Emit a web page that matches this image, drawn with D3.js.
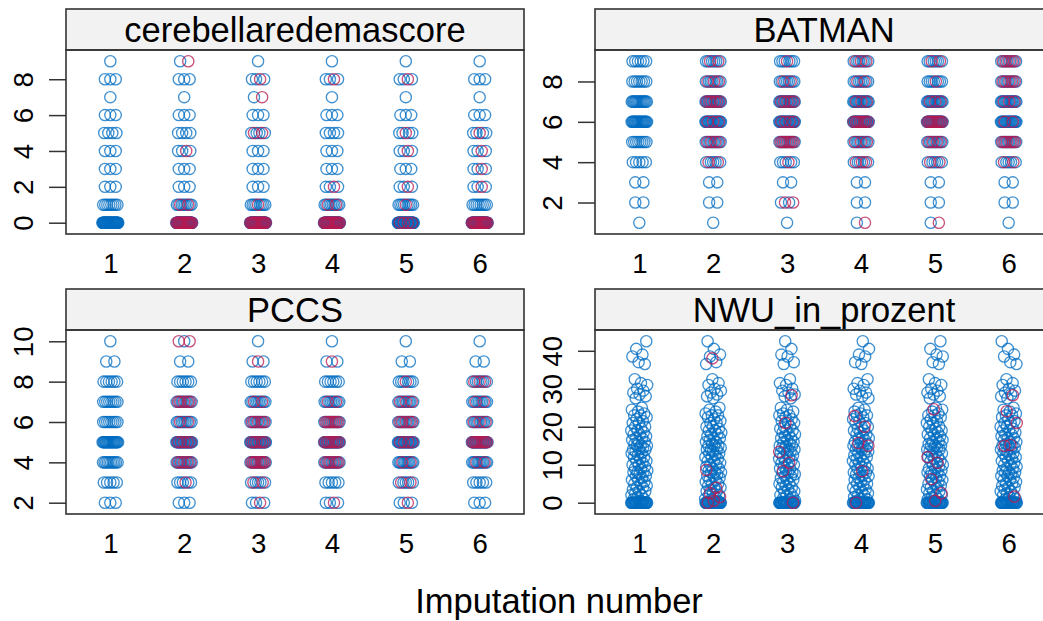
<!DOCTYPE html>
<html lang="en">
<head>
<meta charset="UTF-8">
<title>Imputation strip plot</title>
<script src="https://cdn.jsdelivr.net/npm/d3@7"></script>
<style>
  body { margin: 0; background: #fff; }
  svg { display: block; font-family: "Liberation Sans", Arial, sans-serif; }
</style>
</head>
<body>
<svg id="chart" width="1043" height="621"></svg>
<script>
// x axis: column 1 = observed data only, columns 2-6 = imputations
const impNumbers = [1, 2, 3, 4, 5, 6];
const xTickLabels = ['1', '2', '3', '4', '5', '6'];

// cerebellaredemascore: counts per level (observed, then imputed per imputation 2..6)
const cerebLevels = [0, 1, 2, 3, 4, 5, 6, 7, 8, 9];
const cerebObs = [40, 8, 3, 3, 3, 4, 3, 1, 3, 1];
const cerebImp = [
  [18, 2, 0, 0, 1, 0, 0, 0, 0, 1],
  [18, 1, 0, 0, 0, 2, 0, 1, 1, 0],
  [18, 2, 1, 0, 0, 0, 0, 0, 1, 0],
  [4, 1, 1, 0, 1, 1, 0, 0, 1, 0],
  [18, 0, 1, 1, 1, 1, 0, 0, 0, 0]
];

// BATMAN
const batmanLevels = [1, 2, 3, 4, 5, 6, 7, 8, 9];
const batmanObs = [1, 2, 2, 5, 8, 20, 15, 7, 6];
const batmanImp = [
  [0, 0, 0, 2, 4, 3, 6, 3, 2],
  [0, 2, 0, 1, 7, 4, 5, 2, 1],
  [1, 0, 0, 3, 3, 8, 3, 2, 3],
  [1, 0, 0, 2, 4, 10, 3, 1, 2],
  [0, 0, 0, 2, 6, 2, 3, 5, 5]
];

// PCCS
const pccsLevels = [2, 3, 4, 5, 6, 7, 8, 9, 10];
const pccsObs = [3, 5, 10, 20, 8, 8, 6, 2, 1];
const pccsImp = [
  [0, 1, 5, 5, 2, 5, 0, 0, 2],
  [1, 2, 8, 6, 5, 2, 0, 1, 0],
  [1, 0, 6, 8, 7, 2, 0, 1, 0],
  [1, 2, 2, 4, 5, 3, 1, 0, 0],
  [0, 0, 2, 10, 3, 2, 3, 0, 0]
];

// NWU_in_prozent: observed values and imputed values per imputation 2..6
const nwuObs = [
  0, 0, 0, 0, 0, 0, 0, 0, 0, 0, 0, 0, 0, 0, 0, 0, 0, 0, 0, 0,
  0, 0, 0, 0, 0, 0, 0, 0, 0, 0,
  0.5, 1, 1, 1.5, 2, 2, 2.5, 3, 3, 3.5, 4, 4, 4.5, 5, 5, 5.5, 6, 6, 6.5, 7,
  7, 7.5, 8, 8, 8, 8.5, 9, 9, 9.5, 10, 10, 10.5, 11, 11, 11.5, 12, 12, 12.5, 13, 13,
  13.5, 14, 14, 14, 14.5, 15, 15, 15, 15.5, 16, 16, 16.5, 17, 17, 17.5, 18, 18, 18.5, 19, 19,
  19.5, 20, 20, 21, 21, 21.5, 22, 22.5, 23, 23, 23.5, 24, 24.5, 25,
  27.5, 28, 28.5, 29, 29.5, 30, 31, 31.5, 32.5,
  36.5, 37, 38.5, 39, 40.5, 42.5
];
const nwuImp = [
  [38, 8.6, 3.9, 2.5, 1.5, 0.5, 0],
  [28.3, 21, 13.4, 10.5, 8.3, 0],
  [22.8, 20, 15.7, 15, 8.3, 0],
  [24.6, 12, 10.5, 6.2, 2.5, 0.5],
  [28.3, 24.1, 21, 15.2, 15, 1.6]
];

const panels = [
  { title: 'cerebellaredemascore', levels: cerebLevels, obs: cerebObs, imp: cerebImp, col: 0, row: 0 },
  { title: 'BATMAN', levels: batmanLevels, obs: batmanObs, imp: batmanImp, col: 1, row: 0 },
  { title: 'PCCS', levels: pccsLevels, obs: pccsObs, imp: pccsImp, col: 0, row: 1 },
  { title: 'NWU_in_prozent', values: nwuObs, impValues: nwuImp, col: 1, row: 1 }
];

const colX = [66, 595], rowY = [9, 289];
const panelW = 458, stripH = 41, plotH = 184;
const jitterW = 0.11;
const obsColor = 'rgba(0,108,194,0.75)', impColor = 'rgba(182,26,81,0.75)';
const frameColor = '#333';

const svg = d3.select('#chart');

function buildPoints(p) {
  const pts = [];
  impNumbers.forEach((imp, c) => {
    if (p.levels) {
      p.levels.forEach((v, k) => {
        const nObs = p.obs[k];
        const nImp = c === 0 ? 0 : p.imp[c - 1][k];
        const n = nObs + nImp;
        const impSlots = new Set();
        for (let j = 0; j < nImp; j++) impSlots.add(Math.floor((j + 0.5) * n / nImp));
        for (let i = 0; i < n; i++) {
          const off = n === 1 ? 0 : jitterW * (2 * (i + 0.5) / n - 1);
          pts.push({ imp, v, off, kind: impSlots.has(i) ? 'imp' : 'obs' });
        }
      });
    } else {
      // spread continuous values across the jitter band with a golden-ratio sequence
      p.values.forEach((v, i) => {
        const f = ((i + c * 0.37) * 0.618034) % 1;
        pts.push({ imp, v, off: jitterW * (2 * f - 1), kind: 'obs' });
      });
      if (c > 0) p.impValues[c - 1].forEach((v, i) => {
        const f = ((i + c * 0.53 + 0.2) * 0.618034) % 1;
        pts.push({ imp, v, off: jitterW * (2 * f - 1), kind: 'imp' });
      });
    }
  });
  return pts;
}

panels.forEach(p => {
  const x0 = colX[p.col], top = rowY[p.row];
  const plotTop = top + stripH, plotBot = plotTop + plotH;
  const pts = buildPoints(p);

  const x = d3.scaleLinear().domain([0.4, 6.6]).range([x0, x0 + panelW]);
  const [lo, hi] = d3.extent(pts, d => d.v);
  const pad = 0.07 * (hi - lo);
  const y = d3.scaleLinear().domain([lo - pad, hi + pad]).range([plotBot, plotTop]);

  const g = svg.append('g');

  // strip
  g.append('rect')
    .attr('x', x0).attr('y', top).attr('width', panelW).attr('height', stripH)
    .attr('fill', '#f2f2f2').attr('stroke', frameColor).attr('stroke-width', 1.6);
  g.append('text')
    .attr('x', x0 + panelW / 2).attr('y', top + stripH / 2 + 12.5)
    .attr('text-anchor', 'middle').attr('font-size', 34.5).attr('fill', '#000')
    .text(p.title);

  // points: observed first, imputed on top
  ['obs', 'imp'].forEach(kind => {
    g.append('g').selectAll('circle')
      .data(pts.filter(d => d.kind === kind))
      .join('circle')
      .attr('cx', d => x(d.imp + d.off))
      .attr('cy', d => y(d.v))
      .attr('r', 5.6)
      .attr('fill', 'none')
      .attr('stroke', kind === 'obs' ? obsColor : impColor)
      .attr('stroke-width', 1.35);
  });

  // panel frame
  g.append('rect')
    .attr('x', x0).attr('y', plotTop).attr('width', panelW).attr('height', plotH)
    .attr('fill', 'none').attr('stroke', frameColor).attr('stroke-width', 1.6);

  // y axis
  const yAxis = g.append('g')
    .attr('transform', `translate(${x0},0)`)
    .call(d3.axisLeft(y).ticks(5).tickSize(17));
  yAxis.select('.domain').remove();
  yAxis.attr('font-size', 27.6).attr('font-family', null);
  yAxis.selectAll('line').attr('stroke', frameColor).attr('stroke-width', 1.5);
  yAxis.selectAll('text')
    .attr('transform', 'rotate(-90)')
    .attr('x', 0).attr('y', -33).attr('dy', null)
    .attr('text-anchor', 'middle').attr('fill', '#000');

  // x axis labels
  const xAxis = g.append('g')
    .attr('transform', `translate(0,${plotBot})`)
    .call(d3.axisBottom(x).tickValues(impNumbers).tickFormat((d, i) => xTickLabels[i])
      .tickSize(0).tickPadding(19));
  xAxis.select('.domain').remove();
  xAxis.attr('font-size', 27.6).attr('font-family', null);
  xAxis.selectAll('text').attr('fill', '#000');
});

svg.append('text')
  .attr('x', 559).attr('y', 613)
  .attr('text-anchor', 'middle').attr('font-size', 34.5).attr('fill', '#000')
  .text('Imputation number');
</script>
</body>
</html>
